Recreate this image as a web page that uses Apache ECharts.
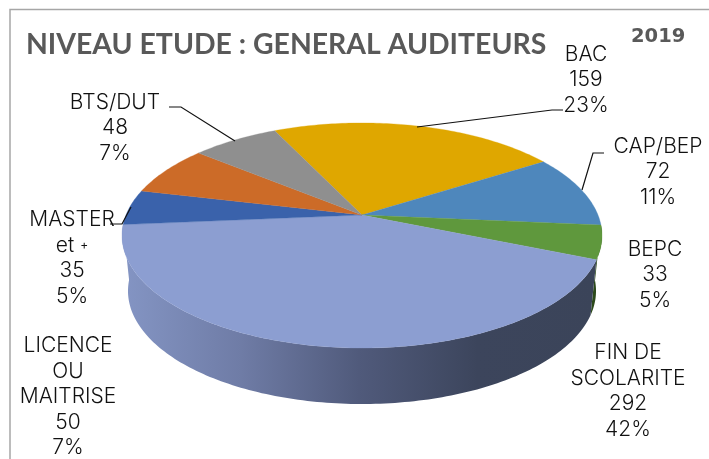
<!DOCTYPE html>
<html>
<head>
<meta charset="utf-8">
<style>
  html, body { margin: 0; padding: 0; background: #fff; }
  #grafico { width: 709px; height: 459px; }
</style>
<script src="https://cdn.jsdelivr.net/npm/echarts@6/dist/echarts.min.js"></script>
</head>
<body>
<div id="grafico"></div>
<script>
// --- Datos ---
const categories = ["BAC", "CAP/BEP", "BEPC", "FIN DE\nSCOLARITE", "MASTER\net {small|+}", "LICENCE\nOU\nMAITRISE", "BTS/DUT"];
const values = [159, 72, 33, 292, 35, 50, 48];
const percents = ["23%", "11%", "5%", "42%", "5%", "7%", "7%"];

// --- Estilo de cada porcion ---
const colors = ["#DFA700", "#4E87BC", "#5F983D", "#8C9ED1", "#3A62AB", "#CC6B28", "#8F8F8F"];
const labelCenters = [[586, 80], [658, 172], [655, 275], [628, 391], [72, 258], [68, 397], [115, 128]];
const labelFont = "Inter";

// --- Geometria del pastel en perspectiva ---
const apex = { x: 362, y: 215 };
const persp = { a: 108.8, k: 0.182, r: 236 };
const top3d = { cy: 235.5, rx: 240, ry: 112.5 };
const bottom3d = { cy: 291, rx: 234, ry: 113 };
const startAngle = 115.5;

const total = values.reduce((s, v) => s + v, 0);

function sliceAngles(index) {
    const before = values.slice(0, index).reduce((s, v) => s + v, 0);
    return [startAngle - before / total * 360, startAngle - (before + values[index]) / total * 360];
}

// Punto del borde superior para un angulo (proyeccion del circulo)
function rimPoint(deg) {
    const u = Math.cos(deg * Math.PI / 180);
    const v = Math.sin(deg * Math.PI / 180);
    const w = 1 + persp.k * v;
    return [apex.x + persp.r * u / w, apex.y - persp.a * v / w];
}

// El mismo punto sobre la elipse inferior
function floorPoint(deg) {
    const p = rimPoint(deg);
    return [
        apex.x + (p[0] - apex.x) * bottom3d.rx / top3d.rx,
        bottom3d.cy + (p[1] - top3d.cy) * bottom3d.ry / top3d.ry
    ];
}

function arc(fn, from, to) {
    const steps = Math.max(8, Math.ceil(Math.abs(to - from)));
    const pts = [];
    for (let i = 0; i <= steps; i++) {
        pts.push(fn(from + (to - from) * i / steps));
    }
    return pts;
}

function renderTop(params, api) {
    const i = params.dataIndex;
    const ang = sliceAngles(i);
    const pts = [[apex.x, apex.y]].concat(arc(rimPoint, ang[0], ang[1]));
    return {
        type: "polygon",
        shape: { points: pts },
        style: { fill: colors[i], stroke: colors[i], lineWidth: 0.3 }
    };
}

function renderWall(params, api) {
    const i = params.dataIndex;
    const ang = sliceAngles(i);
    const mid = (ang[0] + ang[1]) / 2;
    // Solo se ven las paredes de la mitad delantera
    if (mid >= 0 || mid <= -180) {
        return null;
    }
    const pts = arc(rimPoint, ang[0], ang[1]).concat(arc(floorPoint, ang[1], ang[0]));
    const fill = categories[i] === "BEPC" ? "#2C4A1B" : new echarts.graphic.LinearGradient(0, 0, 1, 0, [
        { offset: 0, color: "#8495C4" },
        { offset: 0.25, color: "#6F7CA6" },
        { offset: 0.5, color: "#505A7B" },
        { offset: 0.75, color: "#3C455C" },
        { offset: 1, color: "#3B4459" }
    ]);
    return { type: "polygon", shape: { points: pts }, style: { fill: fill } };
}

function renderLabel(params, api) {
    const i = params.dataIndex;
    return {
        type: "text",
        x: labelCenters[i][0],
        y: labelCenters[i][1],
        style: {
            text: categories[i] + "\n" + api.value(0) + "\n" + percents[i],
            font: "300 21px " + labelFont,
            fill: "#111",
            align: "center",
            verticalAlign: "middle",
            lineHeight: 25.5,
            rich: {
                small: { fontSize: 12, fontFamily: labelFont, fill: "#111", lineHeight: 25.5 }
            }
        }
    };
}

function leader(points) {
    return {
        type: "polyline",
        shape: { points: points },
        style: { stroke: "#111", lineWidth: 1.2, fill: null },
        z: 10
    };
}

const chart = echarts.init(document.getElementById("grafico"), null, { renderer: "canvas" });

chart.setOption({
    animation: false,
    title: [
        {
            text: "NIVEAU ETUDE : GENERAL AUDITEURS",
            left: 26,
            top: 31,
            padding: 0,
            textStyle: { fontFamily: "Lato", fontWeight: "bold", fontSize: 28.4, color: "#595959" }
        },
        {
            text: "2019",
            left: 631,
            top: 27,
            padding: 0,
            textStyle: { fontFamily: "DejaVu Sans", fontWeight: "bold", fontSize: 19.5, color: "#595959" }
        }
    ],
    graphic: [
        // marco del grafico
        {
            type: "polyline",
            shape: { points: [[10, 459], [10, 9.5], [709, 9.5]] },
            style: { stroke: "#A6A6A6", lineWidth: 1.5, fill: null }
        },
        leader([[417, 127], [552, 110], [563, 110]]),
        leader([[582, 190], [593, 153], [604, 153]]),
        leader([[235, 141], [181, 107], [169, 107]]),
        leader([[131, 207], [122, 224], [110, 224]])
    ],
    series: [
        { type: "custom", coordinateSystem: "none", z: 2, silent: true, data: values.map((v) => [v]), renderItem: renderWall },
        { type: "custom", coordinateSystem: "none", z: 3, silent: true, data: values.map((v) => [v]), renderItem: renderTop },
        { type: "custom", coordinateSystem: "none", z: 5, silent: true, data: values.map((v) => [v]), renderItem: renderLabel }
    ]
});
</script>
</body>
</html>
